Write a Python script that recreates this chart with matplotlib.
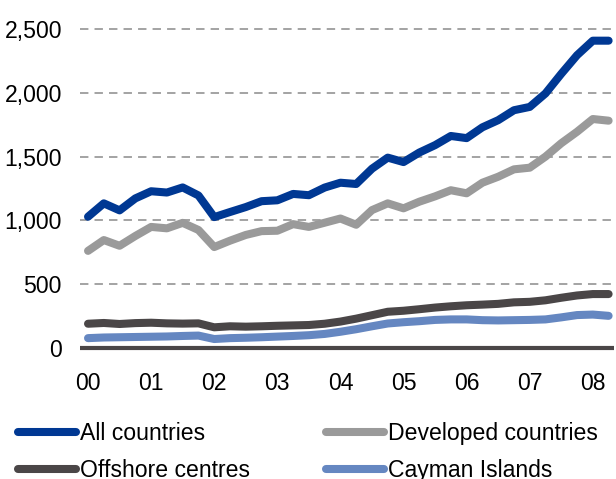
import numpy as np
import matplotlib
matplotlib.use("Agg")
import matplotlib.pyplot as plt
from matplotlib.ticker import FuncFormatter

# ---------- DONNÉES (trimestrielles, 2000T1 -> 2008T2) ----------
quarters = 2000 + 0.25 * np.arange(34)

all_countries = [1028, 1133, 1078, 1172, 1228, 1218, 1258, 1195, 1025, 1065,
                 1104, 1150, 1157, 1207, 1197, 1257, 1295, 1285, 1405, 1492,
                 1457, 1532, 1590, 1662, 1645, 1730, 1786, 1864, 1890, 1996,
                 2150, 2296, 2410, 2410]
developed = [760, 845, 800, 877, 948, 937, 980, 924, 790, 840,
             885, 915, 918, 970, 948, 981, 1014, 965, 1080, 1133,
             1094, 1146, 1188, 1236, 1212, 1295, 1342, 1400, 1413, 1500,
             1605, 1695, 1795, 1782]
offshore = [188, 194, 186, 193, 196, 191, 189, 191, 160, 168,
            165, 168, 172, 175, 178, 188, 205, 228, 255, 282,
            290, 302, 315, 325, 333, 338, 344, 356, 360, 372,
            392, 410, 421, 421]
cayman = [75, 80, 82, 84, 86, 88, 92, 95, 68, 75,
          78, 82, 87, 92, 98, 108, 125, 145, 168, 190,
          200, 208, 218, 222, 222, 216, 214, 216, 218, 222,
          238, 256, 260, 250]

year_ticks = list(range(2000, 2009))
year_labels = ["00", "01", "02", "03", "04", "05", "06", "07", "08"]
y_ticks = [0, 500, 1000, 1500, 2000, 2500]

series = [
    ("All countries", all_countries, "#003893"),
    ("Developed countries", developed, "#9a9a9a"),
    ("Offshore centres", offshore, "#4a4647"),
    ("Cayman Islands", cayman, "#6587c1"),
]
# ---------------------------------------------------------------

plt.rcParams["font.family"] = ["Liberation Sans", "DejaVu Sans"]

fig = plt.figure(figsize=(6.16, 4.79), dpi=100)
ax = fig.add_axes([0.1299, 0.2635, 0.8669, 0.7021])

# grille en tirets + ligne du zéro
for yv in y_ticks[1:]:
    ax.axhline(yv, color="#8a8a8a", lw=1.1, ls=(0, (5.5, 4)), zorder=1)
ax.axhline(0, color="#4a4647", lw=3.0, zorder=2)

lines = {}
for label, vals, col in series[::-1]:
    ln, = ax.plot(quarters, vals, color=col, lw=5.8, label=label,
                  solid_capstyle="round", solid_joinstyle="round", zorder=3)
    lines[label] = ln

ax.set_xlim(1999.873, 2008.336)
ax.set_ylim(-40, 2600)
ax.set_xticks(year_ticks)
ax.set_xticklabels(year_labels)
ax.set_yticks(y_ticks)
ax.yaxis.set_major_formatter(FuncFormatter(lambda v, p: f"{int(v):,}"))
ax.tick_params(axis="both", length=0, labelsize=16.6, colors="black")
ax.tick_params(axis="y", pad=13)
ax.tick_params(axis="x", pad=14)
for s in ax.spines.values():
    s.set_visible(False)

order = ["All countries", "Offshore centres", "Developed countries", "Cayman Islands"]
fig.legend([lines[k] for k in order], order, ncol=2,
           loc="upper left", bbox_to_anchor=(0.029, 0.119),
           frameon=False, fontsize=16.6, borderpad=0, borderaxespad=0,
           handlelength=2.5, handletextpad=0.2, columnspacing=3.3,
           labelspacing=0.62)

fig.savefig("out.png", dpi=100)
